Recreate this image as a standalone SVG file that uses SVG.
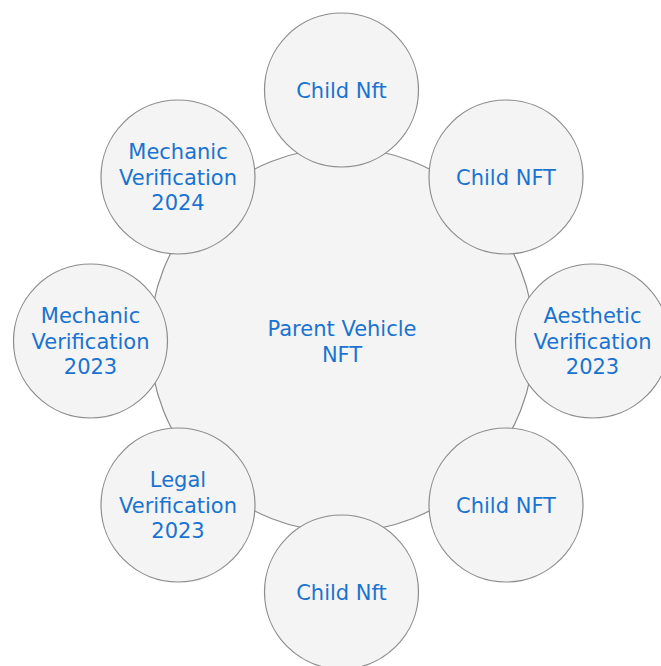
<svg xmlns="http://www.w3.org/2000/svg" width="661" height="666" viewBox="0 0 661 666">
  <style>
    .node { fill: #f4f4f4; stroke: #8c8c8c; stroke-width: 1.2; }
    .label { font-family: "DejaVu Sans", Verdana, sans-serif; font-size: 21px; fill: #1a73d0; text-anchor: middle; }
  </style>
  <rect width="661" height="666" fill="#ffffff"/>

  <!-- central parent -->
  <g id="parent">
    <circle class="node" cx="342" cy="340" r="192"/>
    <text class="label" x="342" y="336">Parent Vehicle</text>
    <text class="label" x="342" y="362">NFT</text>
  </g>

  <!-- satellites, clockwise from top -->
  <g id="child-top">
    <circle class="node" cx="341.5" cy="90" r="77"/>
    <text class="label" x="341.5" y="98">Child Nft</text>
  </g>
  <g id="child-top-right">
    <circle class="node" cx="506" cy="177" r="77"/>
    <text class="label" x="506" y="185">Child NFT</text>
  </g>
  <g id="aesthetic-2023">
    <circle class="node" cx="592.5" cy="341" r="77"/>
    <text class="label" x="592.5" y="323">Aesthetic</text>
    <text class="label" x="592.5" y="349">Verification</text>
    <text class="label" x="592.5" y="374">2023</text>
  </g>
  <g id="child-bottom-right">
    <circle class="node" cx="506" cy="505" r="77"/>
    <text class="label" x="506" y="513">Child NFT</text>
  </g>
  <g id="child-bottom">
    <circle class="node" cx="341.5" cy="592" r="77"/>
    <text class="label" x="341.5" y="600">Child Nft</text>
  </g>
  <g id="legal-2023">
    <circle class="node" cx="178" cy="505" r="77"/>
    <text class="label" x="178" y="487">Legal</text>
    <text class="label" x="178" y="513">Verification</text>
    <text class="label" x="178" y="538">2023</text>
  </g>
  <g id="mechanic-2023">
    <circle class="node" cx="90.5" cy="341" r="77"/>
    <text class="label" x="90.5" y="323">Mechanic</text>
    <text class="label" x="90.5" y="349">Verification</text>
    <text class="label" x="90.5" y="374">2023</text>
  </g>
  <g id="mechanic-2024">
    <circle class="node" cx="178" cy="177" r="77"/>
    <text class="label" x="178" y="159">Mechanic</text>
    <text class="label" x="178" y="185">Verification</text>
    <text class="label" x="178" y="210">2024</text>
  </g>
</svg>
